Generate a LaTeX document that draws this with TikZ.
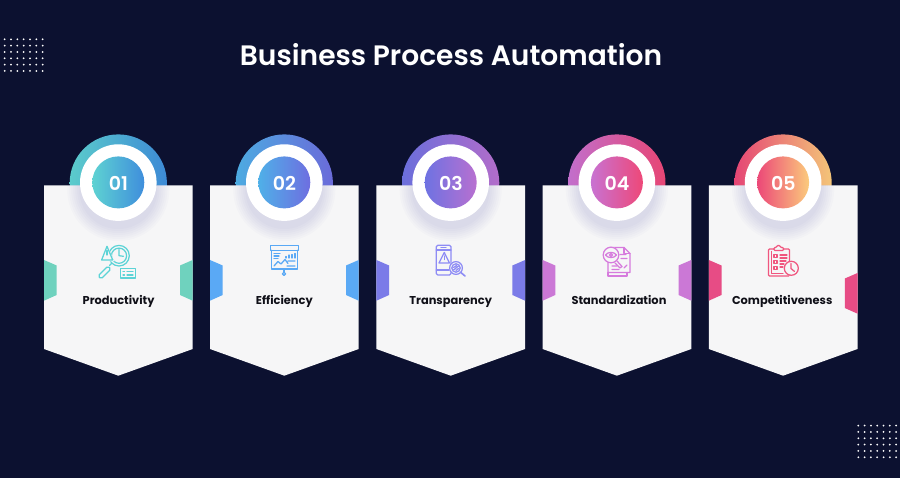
\documentclass[tikz,border=0pt]{standalone}
\usepackage{fontspec}
\setmainfont{Poppins}[UprightFont=* SemiBold,BoldFont=* Bold]
\definecolor{bgc}{HTML}{0C1130}
\definecolor{cardc}{HTML}{F6F6F7}
\definecolor{glow}{HTML}{7C7CC0}
\definecolor{inkc}{HTML}{101018}
\definecolor{aA}{HTML}{5ED2D2}\definecolor{aB}{HTML}{3F8EDC}
\definecolor{bA}{HTML}{4FB0E8}\definecolor{bB}{HTML}{6E6EE0}
\definecolor{cA}{HTML}{6E72E2}\definecolor{cB}{HTML}{B870D0}
\definecolor{dA}{HTML}{C872D2}\definecolor{dB}{HTML}{EE4878}
\definecolor{eA}{HTML}{EC4878}\definecolor{eB}{HTML}{FBCB7C}
\definecolor{taba}{HTML}{6FD2BE}\definecolor{tabb}{HTML}{5AA9F5}
\definecolor{tabc}{HTML}{7B7BE8}\definecolor{tabd}{HTML}{CB78D6}
\definecolor{tabe}{HTML}{E74C85}
\definecolor{ica}{HTML}{5CD3D6}\definecolor{icb}{HTML}{5AA9F5}
\definecolor{icc}{HTML}{8E8CF5}\definecolor{icd}{HTML}{D67BDD}
\definecolor{ice}{HTML}{F0567F}
\tikzset{
  titletext/.style={text=white,font=\fontsize{28.1}{34}\selectfont,inner sep=0pt},
  labeltext/.style={text=inkc,font=\fontsize{11.4}{14}\selectfont\bfseries,inner sep=0pt,anchor=base},
  numtext/.style={text=white,font=\fontsize{19}{22}\selectfont,inner sep=0pt},
  dotmark/.style={fill=white,draw=none},
  iconline/.style={line width=1.25pt,line join=round,line cap=round,fill=none},
}
% #1 left x, #2 gradient start, #3 gradient end, #4 tab colour, #5 number, #6 label, #7 name, #8 right tab y shift, #9 label x
\newcommand{\bpacard}[9]{
  \begin{scope}[shift={(#1,0)}]
    \begin{scope}
      \clip (0,120) rectangle (148.7,186);
      \shade[left color=#2!97!black,right color=#3!97!black] (74.3,183) circle (48.6);
    \end{scope}
    \fill[cardc] (0,185.3) -- (148.7,185.3) -- (148.7,349) -- (74.3,375.7) -- (0,349) -- cycle;
    \begin{scope}
      \clip (0,185.3) rectangle (148.7,260);
      \foreach \r in {39,41,...,51} {\fill[glow,opacity=.03] (74.3,190) circle (\r);}
    \end{scope}
    \fill[white] (74.3,182.6) circle (38.3);
    \shade[left color=#2,right color=#3] (74.3,182.4) circle (26);
    \node[numtext] (num#7) at (74.5,183) {#5};
    \node[labeltext] (lab#7) at (#9,304.3) {#6};
    \fill[#4] (0,260) -- (12.7,265.5) -- (12.7,295) -- (0,300.7) -- cycle;
    \fill[#4] (148.7,260+#8) -- (136,265.5+#8) -- (136,295+#8) -- (148.7,300.7+#8) -- cycle;
  \end{scope}
}
\begin{document}
\begin{tikzpicture}[x=1pt,y=-1pt]
\useasboundingbox (0,0) rectangle (900,478);
\fill[bgc] (0,0) rectangle (900,478);
\node[titletext] (title) at (451,55) {Business Process Automation};
% dots
\foreach \i in {0,...,6}\foreach \j in {0,...,5}
  {\fill[dotmark] ({4.7+6.33*\i},{39.3+6.33*\j}) circle (1);}
\foreach \i in {0,...,6}\foreach \j in {0,...,5}
  {\fill[dotmark] ({858.3+6.3*\i},{425.6+6.33*\j}) circle (1);}
% cards
\bpacard{44}{aA}{aB}{taba}{01}{Productivity}{a}{0}{74.6}
\bpacard{210}{bA}{bB}{tabb}{02}{Efficiency}{b}{0}{74.3}
\bpacard{376.4}{cA}{cB}{tabc}{03}{Transparency}{c}{0}{74.3}
\bpacard{542.6}{dA}{dB}{tabd}{04}{Standardization}{d}{0}{76.4}
\bpacard{708.8}{eA}{eB}{tabe}{05}{Competitiveness}{e}{13}{73.4}
% icon 1
\begin{scope}[iconline,draw=ica]
  \draw (119,255.7) circle (10.3);
  \draw (119,255.7) circle (7.6);
  \draw (119,249.5) -- (119,255.7) -- (123.5,256.3);
  \draw (112,263) -- (109.5,265.5);
  \draw[rounded corners=1.8pt,rotate around={45:(104.5,272.5)}] (97.5,270.3) rectangle (111.5,274.7);
  \fill[cardc] (107,244.5) -- (114.3,261.3) -- (100,261.3) -- cycle;
  \draw (107,246.3) -- (112.7,260) -- (101.6,260) -- cycle;
  \draw (107,250.5) -- (107,255);
  \fill[cardc] (120,268) rectangle (136,278);
  \draw (120.5,268.5) rectangle (135.5,278);
  \draw (123,271.5) -- (124.5,271.5) (127,271.5) -- (133,271.5) (123,275) -- (124.5,275) (127,275) -- (133,275);
\end{scope}
% icon 2
\begin{scope}[iconline,draw=icb]
  \draw (270.5,245.5) rectangle (298.5,250.3);
  \draw (271.5,250.3) -- (271.5,269) -- (297.5,269) -- (297.5,250.3);
  \draw (284,269) -- (284,272);
  \draw (284,273.8) circle (1.6);
  \draw (274,253.5) -- (280,253.5) (274,256) -- (279,256) (274,258.5) -- (278,258.5);
  \draw (274,266) -- (278,261.5) -- (281,264) -- (285,259.5) -- (288,263.5) (288,261) -- (295,261) (287,266) -- (295,266);
  \draw (286,258) -- (286,256.5) (289,258) -- (289,255) (292,258) -- (292,254.5) (295,258) -- (295,253.5);
\end{scope}
% icon 3
\begin{scope}[iconline,draw=icc]
  \draw[rounded corners=1.5pt] (436.3,245.3) rectangle (451,275);
  \draw (436.3,250) -- (451,250) (436.3,270) -- (451,270);
  \draw (441,247.7) -- (446,247.7);
  \draw (444.3,252.5) -- (449.5,263) -- (439,263) -- cycle;
  \draw (444.3,256) -- (444.3,259.5);
  \fill[cardc] (456,268) circle (7);
  \draw (456,268) circle (6.4);
  \draw (456,268) circle (4.2);
  \draw (453.5,270) -- (458.5,266) (453.5,267.5) -- (456.5,265.5) (456,270.5) -- (458.5,268.5);
  \draw[line width=1.6pt] (460.8,272.5) -- (465,276);
\end{scope}
% icon 4
\begin{scope}[iconline,draw=icd]
  \draw (609,247.5) -- (624,247.5) -- (630,253.5) -- (630,272.5) -- (608,272.5) -- (608,262);
  \draw (624,247.5) -- (624,253.5) -- (630,253.5);
  \draw (608,272.5) -- (608,276) -- (627,276) -- (627,272.5);
  \fill[cardc] (611,255) circle (8.3);
  \draw (611,255) circle (7.8);
  \draw (605.5,255) .. controls (608,251.5) and (614,251.5) .. (616.5,255) .. controls (614,258.5) and (608,258.5) .. (605.5,255) -- cycle;
  \draw (611,255) circle (1.6);
  \draw (617,261) -- (622,266.5) -- (620,268) -- (615,263);
  \draw (620,254.5) -- (626,254.5) (621,258.5) -- (627,258.5) (612,266) -- (617,266) (612,269.5) -- (619,269.5) (624,268) -- (627,265);
\end{scope}
% icon 5
\begin{scope}[iconline,draw=ice]
  \draw[rounded corners=1pt] (768.5,249) rectangle (789.5,276);
  \draw (771.5,251.5) -- (771.5,273.5) -- (783,273.5);
  \draw[fill=cardc,rounded corners=1pt] (774,250.5) -- (774,247.5) -- (776.5,247.5) -- (777,245.5) -- (780,245.5) -- (780.5,247.5) -- (783.5,247.5) -- (783.5,250.5) -- cycle;
  \draw (774,254.5) rectangle (777,257.5) (774,260.5) rectangle (777,263.5) (774,266.5) rectangle (777,269.5);
  \draw (780,255) -- (787,255) (780,258) -- (787,258) (780,261) -- (786,261) (780,264) -- (784,264) (780,267) -- (783,267);
  \fill[cardc] (791.3,268.3) circle (7.5);
  \draw (791.3,268.3) circle (7);
  \draw (791,263.5) -- (791,268.5) -- (794.5,271.5);
\end{scope}
\end{tikzpicture}
\end{document}
